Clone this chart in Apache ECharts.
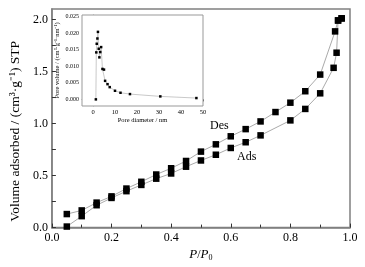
<!DOCTYPE html>
<html>
<head>
<meta charset="utf-8">
<script src="https://cdn.jsdelivr.net/npm/echarts@6/dist/echarts.min.js"></script>
<style>
  html, body { margin: 0; padding: 0; background: #fff; }
  #chart { width: 365px; height: 267px; }
</style>
</head>
<body>
<div id="chart"></div>
<script>
// isotherm, relative pressure P/P0
var desX = [0.05, 0.10, 0.15, 0.20, 0.25, 0.30, 0.35, 0.40, 0.45, 0.50, 0.55, 0.60, 0.65, 0.70, 0.75, 0.80, 0.85, 0.90, 0.95, 0.96, 0.972];
var desY = [0.13, 0.165, 0.24, 0.30, 0.375, 0.44, 0.51, 0.57, 0.64, 0.73, 0.80, 0.877, 0.946, 1.02, 1.11, 1.20, 1.31, 1.47, 1.885, 1.99, 2.01];
var adsX = [0.05, 0.10, 0.15, 0.20, 0.25, 0.30, 0.35, 0.40, 0.45, 0.50, 0.55, 0.60, 0.65, 0.70, 0.80, 0.85, 0.90, 0.945, 0.955, 0.96, 0.972];
var adsY = [0.01, 0.11, 0.215, 0.285, 0.35, 0.41, 0.47, 0.52, 0.585, 0.645, 0.70, 0.765, 0.82, 0.886, 1.03, 1.14, 1.29, 1.535, 1.68, 1.99, 2.01];

// pore size distribution (inset)
var poreD = [1.3, 1.5, 1.7, 2.0, 2.25, 2.6, 2.9, 3.3, 3.7, 4.3, 5.0, 5.5, 6.6, 7.6, 10, 12.5, 16.8, 30.6, 47];
var poreV = [0.0, 0.0142, 0.0168, 0.0184, 0.0204, 0.0153, 0.0127, 0.0143, 0.0158, 0.0092, 0.0090, 0.0056, 0.0046, 0.0037, 0.0026, 0.0020, 0.0016, 0.0009, 0.0004];

var mainYLabels = [0, 0.5, 1.0, 1.5, 2.0];
var mainYTicks = [0, 0.25, 0.5, 0.75, 1.0, 1.25, 1.5, 1.75, 2.0];
var insetYLabels = [0, 0.005, 0.01, 0.015, 0.02, 0.025];
var insetXLabels = [0, 10, 20, 30, 40, 50];
var insetXTicks = [0, 5, 10, 15, 20, 25, 30, 35, 40, 45, 50];

function pairs(xs, ys) {
    return xs.map(function (x, i) { return [x, ys[i]]; });
}

var serif = 'Liberation Serif';
var axisCol = '#808080';

var chart = echarts.init(document.getElementById('chart'), null, { renderer: 'canvas' });

var option = {
    animation: false,
    backgroundColor: '#fff',
    textStyle: { fontFamily: serif, color: '#000' },
    grid: [
        { left: 43, right: 15, top: 9, bottom: 32, show: true, borderColor: axisCol, borderWidth: 1.5, backgroundColor: '#fff' },
        { left: 82, right: 162, top: 15, bottom: 161, show: true, borderColor: '#999', borderWidth: 1, backgroundColor: '#fff', z: 5 }
    ],
    xAxis: [
        {
            gridIndex: 0, type: 'value', min: 0, max: 1, interval: 0.2,
            name: '{i|P}/{i|P}{s|0}', nameLocation: 'middle', nameGap: 17,
            nameTextStyle: {
                rich: {
                    i: { fontFamily: serif, fontStyle: 'italic', fontSize: 13, color: '#000', lineHeight: 14 },
                    s: { fontFamily: serif, fontSize: 8, color: '#000', verticalAlign: 'bottom', lineHeight: 8, padding: [5, 0, 0, 0] }
                }
            },
            axisLine: { lineStyle: { color: axisCol, width: 1.5 } },
            axisTick: { inside: true, length: 4, lineStyle: { color: '#333' } },
            minorTick: { show: true, splitNumber: 2, length: 3, lineStyle: { color: '#333' } },
            axisLabel: { fontFamily: serif, fontSize: 12, color: '#000', margin: 4, formatter: function (v) { return v.toFixed(1); } },
            splitLine: { show: false }
        },
        {
            gridIndex: 1, type: 'value', min: -5, max: 50,
            name: 'Pore diameter / nm', nameLocation: 'middle', nameGap: 10,
            nameTextStyle: { fontFamily: serif, fontSize: 6.5, color: '#000' },
            axisLine: { lineStyle: { color: '#999', width: 1 } },
            axisTick: { inside: false, length: 2, customValues: insetXTicks, lineStyle: { color: '#555' } },
            axisLabel: { fontFamily: serif, fontSize: 6.5, color: '#000', margin: 2.5, customValues: insetXLabels },
            splitLine: { show: false }
        }
    ],
    yAxis: [
        {
            gridIndex: 0, type: 'value', min: 0, max: 2.1,
            name: 'Volume adsorbed / (cm³·g⁻¹) STP', nameLocation: 'middle', nameGap: 27,
            nameTextStyle: { fontFamily: serif, fontSize: 13.5, color: '#000', padding: [0, 26, 0, 0] },
            axisLine: { lineStyle: { color: axisCol, width: 1.5 } },
            axisTick: { inside: true, length: 4, customValues: mainYTicks, lineStyle: { color: '#333' } },
            axisLabel: { fontFamily: serif, fontSize: 12, color: '#000', margin: 4, customValues: mainYLabels, formatter: function (v) { return v.toFixed(1); } },
            splitLine: { show: false }
        },
        {
            gridIndex: 1, type: 'value', min: -0.002, max: 0.0255,
            name: 'Pore volume / (cm³·g⁻¹·nm⁻¹)', nameLocation: 'middle', nameGap: 21,
            nameTextStyle: { fontFamily: serif, fontSize: 6.5, color: '#000' },
            axisLine: { lineStyle: { color: '#999', width: 1 } },
            axisTick: { inside: false, length: 2, customValues: insetYLabels, lineStyle: { color: '#555' } },
            axisLabel: { fontFamily: serif, fontSize: 6, color: '#000', margin: 3, customValues: insetYLabels, formatter: function (v) { return v.toFixed(3); } },
            splitLine: { show: false }
        }
    ],
    series: [
        {
            name: 'Des', type: 'line', xAxisIndex: 0, yAxisIndex: 0,
            data: pairs(desX, desY),
            symbol: 'rect', symbolSize: 6.5,
            itemStyle: { color: '#000' },
            lineStyle: { color: '#aaa', width: 1 }
        },
        {
            name: 'Ads', type: 'line', xAxisIndex: 0, yAxisIndex: 0,
            data: pairs(adsX, adsY),
            symbol: 'rect', symbolSize: 6.5,
            itemStyle: { color: '#000' },
            lineStyle: { color: '#aaa', width: 1 }
        },
        {
            name: 'PSD', type: 'line', xAxisIndex: 1, yAxisIndex: 1, z: 6,
            data: pairs(poreD, poreV),
            symbol: 'rect', symbolSize: 2.5,
            itemStyle: { color: '#000' },
            lineStyle: { color: '#bbb', width: 0.8 }
        }
    ],
    graphic: [
        { type: 'text', left: 210, top: 120, style: { text: 'Des', font: '12px "Liberation Serif"', fill: '#000' } },
        { type: 'text', left: 237, top: 151, style: { text: 'Ads', font: '12px "Liberation Serif"', fill: '#000' } }
    ]
};

chart.setOption(option);
</script>
</body>
</html>
